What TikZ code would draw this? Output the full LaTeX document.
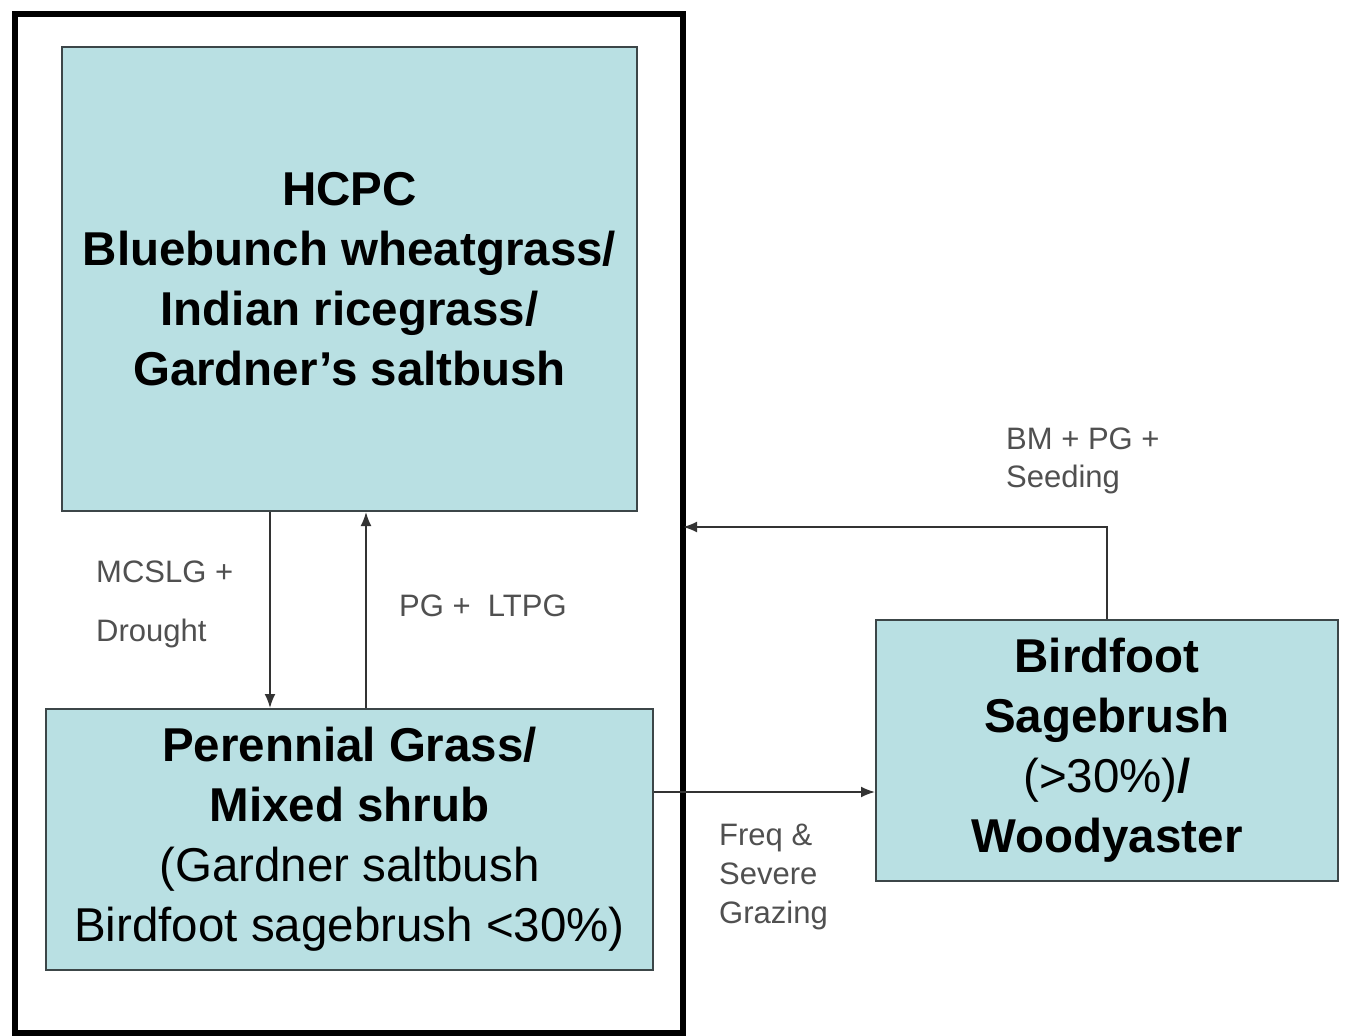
\documentclass[tikz,border=0pt]{standalone}
\usepackage{fontspec}
\setmainfont{Liberation Sans}
\usetikzlibrary{arrows.meta}
\definecolor{boxfill}{RGB}{185,224,227}
\definecolor{boxline}{RGB}{60,70,72}
\definecolor{lblgray}{RGB}{80,80,80}
\tikzset{
  statebox/.style={draw=boxline, line width=2pt, fill=boxfill, rectangle, align=center, inner sep=0pt,
    font=\fontsize{47.5}{60}\selectfont, text=black},
  lbl/.style={align=left, inner sep=0pt, text=lblgray},
  arr/.style={draw=black!80, line width=1.8pt, -{Latex[length=14pt,width=11pt]}},
}
\begin{document}
\begin{tikzpicture}[x=1pt,y=-1pt]
\useasboundingbox (0,0) rectangle (1345,1036);
\fill[white] (0,0) rectangle (1345,1036);
% outer frame
\node[draw=black, line width=6pt, rectangle, minimum width=668pt, minimum height=1019pt, inner sep=0pt, outer sep=0pt] (O) at (349,523.5) {};
% states
\node[statebox, minimum width=575pt, minimum height=464pt] (H) at (349.5,279)
  {\textbf{HCPC}\\\textbf{Bluebunch wheatgrass/}\\\textbf{Indian ricegrass/}\\\textbf{Gardner's saltbush}};
\node[statebox, minimum width=607pt, minimum height=261pt] (P) at (349.5,839.5)
  {\textbf{Perennial Grass/}\\\textbf{Mixed shrub}\\(Gardner saltbush\\Birdfoot sagebrush <30\%)};
\node[statebox, minimum width=462pt, minimum height=261pt] (B) at (1107,750.5)
  {\textbf{Birdfoot}\\\textbf{Sagebrush}\\(>30\%)\textbf{/}\\\textbf{Woodyaster}};
% helper coordinates
\coordinate (d1) at (270,0);
\coordinate (u1) at (366,0);
\coordinate (h1) at (0,792);
\coordinate (r1) at (0,527);
% connectors
\draw[arr] (H.south -| d1) -- (P.north -| d1);
\draw[arr] (P.north -| u1) -- (H.south -| u1);
\draw[arr] (P.east |- h1) -- (B.west |- h1);
\draw[arr] (B.north) |- (O.east |- r1);
% labels
\node[lbl, anchor=west, font=\fontsize{31}{59}\selectfont] (L1) at (96,604) {MCSLG +\\Drought};
\node[lbl, anchor=west, font=\fontsize{31}{38}\selectfont] (L2) at (399,606) {PG +\ \ LTPG};
\node[lbl, anchor=west, font=\fontsize{31}{38}\selectfont] (L3) at (1006,461) {BM + PG +\\Seeding};
\node[lbl, anchor=west, font=\fontsize{31}{39}\selectfont] (L4) at (719,877) {Freq \&\\Severe\\Grazing};
\end{tikzpicture}
\end{document}
